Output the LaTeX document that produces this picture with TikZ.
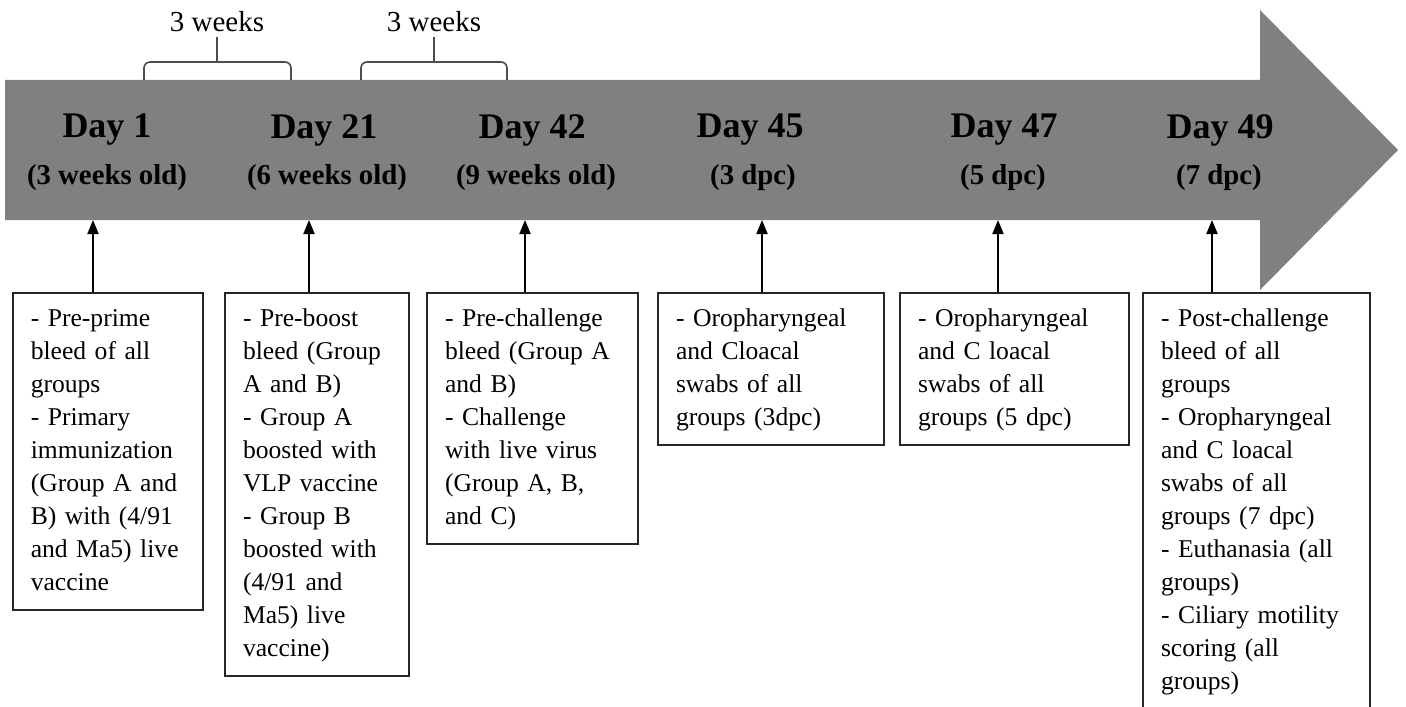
\documentclass[tikz,border=0pt]{standalone}
\usepackage{fontspec}
\setmainfont{Liberation Serif}
\usetikzlibrary{arrows.meta,positioning}
\definecolor{barGray}{RGB}{128,128,128}

\begin{document}
\begin{tikzpicture}[x=0.5pt, y=-0.5pt, >={Triangle[length=7pt,width=5.5pt]}]
	\tikzstyle{day}=[font=\fontsize{18}{20}\selectfont\bfseries, inner sep=0pt]
	\tikzstyle{age}=[font=\fontsize{14.4}{16}\selectfont\bfseries, inner sep=0pt]
	\tikzstyle{gap}=[font=\fontsize{14.5}{16}\selectfont, inner sep=2pt]
	\tikzstyle{brace}=[draw=black!70, line width=0.8pt, rounded corners=3pt]
	\tikzstyle{event}=[draw=black!85, line width=1pt, fill=white, anchor=north, align=left,
		inner xsep=9pt, inner ysep=5pt, font=\fontsize{12.8}{16.5}\selectfont,
		execute at begin node=\strut, execute at end node=\strut]
	\tikzstyle{link}=[->, line width=1pt]
	\useasboundingbox (0,0) rectangle (1406,706);

	% timeline arrow
	\fill[barGray] (5,80) -- (1260,80) -- (1260,10) -- (1398,150) -- (1260,290) -- (1260,220) -- (5,220) -- cycle;

	% days on the timeline
	\node[day] (d1) at (107,130)  {Day 1};
	\node[day] (d2) at (324,130)  {Day 21};
	\node[day] (d3) at (532,130)  {Day 42};
	\node[day] (d4) at (750,130)  {Day 45};
	\node[day] (d5) at (1004,130) {Day 47};
	\node[day] (d6) at (1220,130) {Day 49};
	\node[age] (s1) at (107,178)  {(3 weeks old)};
	\node[age] (s2) at (327,178)  {(6 weeks old)};
	\node[age] (s3) at (536,178)  {(9 weeks old)};
	\node[age] (s4) at (753,178)  {(3 dpc)};
	\node[age] (s5) at (1003,178) {(5 dpc)};
	\node[age] (s6) at (1219,178) {(7 dpc)};

	% intervals
	\node[gap] (w1) at (217,22) {3 weeks};
	\node[gap] (w2) at (434,22) {3 weeks};
	\coordinate (b1) at (217,62);
	\coordinate (b2) at (434,62);
	\draw[brace] (144,80) -- (144,62) -- (291,62) -- (291,80);
	\draw[brace] (361,80) -- (361,62) -- (507,62) -- (507,80);
	\draw[brace] (w1.south) -- (b1);
	\draw[brace] (w2.south) -- (b2);

	% events
	\node[event, text width=77pt]   (e1) at (107.75,292) {- Pre-prime\\bleed of all\\groups\\- Primary\\immunization\\(Group A and\\B) with (4/91\\and Ma5) live\\vaccine};
	\node[event, text width=74pt]   (e2) at (317,292)    {- Pre-boost\\bleed (Group\\A and B)\\- Group A\\boosted with\\VLP vaccine\\- Group B\\boosted with\\(4/91 and\\Ma5) live\\vaccine)};
	\node[event, text width=87.5pt] (e3) at (532.5,292)  {- Pre-challenge\\bleed (Group A\\and B)\\- Challenge\\with live virus\\(Group A, B,\\and C)};
	\node[event, text width=95pt]   (e4) at (771,292)    {- Oropharyngeal\\and Cloacal\\swabs of all\\groups (3dpc)};
	\node[event, text width=96.5pt] (e5) at (1014.5,292) {- Oropharyngeal\\and C loacal\\swabs of all\\groups (5 dpc)};
	\node[event, text width=95.5pt] (e6) at (1256.5,292) {- Post-challenge\\bleed of all\\groups\\- Oropharyngeal\\and C loacal\\swabs of all\\groups (7 dpc)\\- Euthanasia (all\\groups)\\- Ciliary motility\\scoring (all\\groups)};

	% arrows up to the timeline
	\coordinate (t1) at (93,220);
	\coordinate (t2) at (309,220);
	\coordinate (t3) at (525,220);
	\coordinate (t4) at (762,220);
	\coordinate (t5) at (998,220);
	\coordinate (t6) at (1212,220);
	\foreach \i in {1,...,6}
		\draw[link] (e\i.north -| t\i) -- (t\i);
\end{tikzpicture}
\end{document}
